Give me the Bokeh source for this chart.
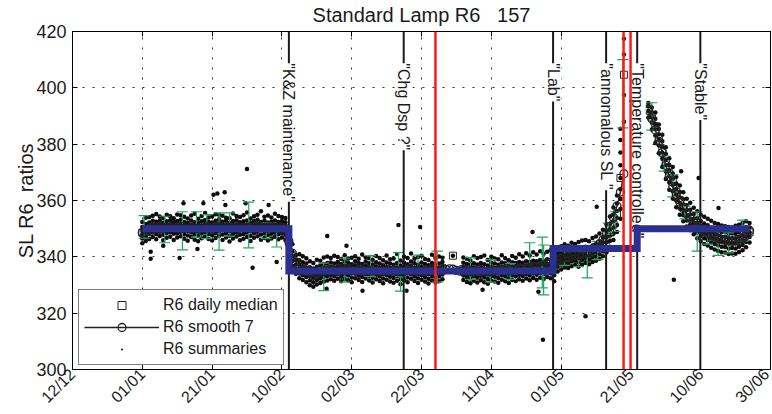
import math
import numpy as np
from bokeh.plotting import figure
from bokeh.models import (Span, Label, Legend, LegendItem, LinearAxis, FixedTicker, Range1d)
from bokeh.embed import file_html
from bokeh.resources import INLINE

FONT = "Liberation Sans"
TXT = "#1a1a1a"
GREEN = "#1fa35a"
BLUE = "#2b2f8f"
NBSP = "\u00a0"

# ---------------- axes ----------------
# x is measured in days counted from 12/12
tick_days = [0, 20, 40, 60, 80, 100, 120, 140, 160, 180, 200]
tick_labels = ["12/12", "01/01", "21/01", "10/02", "02/03", "22/03",
               "11/04", "01/05", "21/05", "10/06", "30/06"]
y_ticks = [300, 320, 340, 360, 380, 400, 420]
title_text = "Standard Lamp R6" + NBSP * 3 + "157"
ylabel_text = "SL R6" + NBSP * 2 + "ratios"

# ---------------- R6 summaries (several per day) ----------------
summ_days_1 = list(range(20, 62))
summ_vals_1 = [
    [344.8, 346.5, 347.9, 349.2, 350.6, 352.4], [345.6, 347.2, 348.8, 350.1, 351.7, 353.9],
    [346.3, 348.1, 349.5, 350.8, 352.2, 354.1], [347.0, 348.6, 349.9, 351.3, 352.8, 354.6],
    [346.2, 348.0, 349.7, 351.0, 352.5, 355.2], [347.4, 348.9, 350.2, 351.4, 352.9, 354.3],
    [345.9, 347.8, 349.4, 350.7, 352.1, 353.8], [346.8, 348.5, 349.9, 351.2, 352.6, 354.9],
    [347.1, 348.7, 350.0, 351.5, 353.0, 354.4], [346.0, 348.2, 349.6, 350.9, 352.3, 353.7],
    [346.9, 348.4, 349.8, 351.1, 352.7, 355.0], [347.3, 348.9, 350.3, 351.6, 353.2, 354.8],
    [346.4, 348.0, 349.5, 350.8, 352.4, 354.2], [345.7, 347.6, 349.2, 350.6, 352.0, 353.6],
    [347.0, 348.6, 350.1, 351.3, 352.9, 354.7], [346.1, 347.9, 349.4, 350.9, 352.3, 355.3],
    [345.5, 347.4, 349.0, 350.5, 351.9, 353.5], [346.6, 348.3, 349.7, 351.0, 352.6, 354.5],
    [347.2, 348.8, 350.2, 351.7, 353.1, 355.6], [346.3, 348.1, 349.6, 351.0, 352.4, 354.0],
    [345.8, 347.7, 349.3, 350.7, 352.2, 354.3], [346.7, 348.4, 349.9, 351.4, 352.8, 355.1],
    [347.5, 349.0, 350.4, 351.8, 353.3, 354.9], [346.0, 347.9, 349.5, 350.9, 352.5, 354.6],
    [346.9, 348.5, 350.0, 351.3, 352.8, 353.9], [345.4, 347.5, 349.1, 350.6, 352.1, 353.7],
    [346.5, 348.2, 349.8, 351.2, 352.7, 355.4], [347.2, 348.7, 350.1, 351.5, 353.0, 354.5],
    [345.9, 347.8, 349.4, 350.8, 352.3, 354.1], [346.4, 348.1, 349.7, 351.1, 352.6, 354.8],
    [347.0, 348.6, 350.0, 351.4, 352.9, 355.7], [345.6, 347.5, 349.2, 350.6, 352.0, 353.6],
    [346.8, 348.4, 349.9, 351.3, 352.7, 354.4], [347.3, 348.9, 350.3, 351.7, 353.2, 354.9],
    [346.1, 347.9, 349.5, 350.9, 352.4, 356.2], [346.7, 348.3, 349.8, 351.2, 352.8, 354.2],
    [345.8, 347.7, 349.3, 350.8, 352.2, 354.7], [346.5, 348.2, 349.7, 351.0, 352.5, 354.0],
    [347.1, 348.6, 350.0, 351.4, 352.9, 355.3], [346.2, 348.0, 349.6, 351.0, 352.4, 354.5],
    [346.9, 348.5, 349.9, 351.3, 352.7, 354.1], [346.0, 347.8, 349.4, 350.9, 352.3, 353.8],
]

summ_days_2 = list(range(62, 107)) + [109] + list(range(112, 138))
summ_vals_2 = [
    [341.5, 344.0, 346.2, 348.0], [336.8, 338.5, 340.2, 342.0, 344.5],
    [334.0, 335.8, 337.3, 338.9, 340.6], [332.4, 334.1, 335.7, 337.2, 338.8, 340.9],
    [331.8, 333.5, 335.0, 336.6, 338.1, 340.2], [331.0, 332.8, 334.5, 336.0, 337.6, 339.5],
    [329.9, 331.6, 333.2, 334.8, 336.3, 338.4], [329.4, 331.0, 332.6, 334.1, 335.9, 337.8],
    [330.2, 331.8, 333.3, 334.9, 336.5, 339.0], [330.7, 332.3, 333.8, 335.3, 336.9, 338.6],
    [331.2, 332.9, 334.4, 335.9, 337.4, 339.8], [331.6, 333.2, 334.7, 336.2, 337.8, 340.1],
    [332.0, 333.6, 335.1, 336.5, 338.0, 339.6], [331.5, 333.1, 334.6, 336.1, 337.6, 340.4],
    [332.2, 333.8, 335.2, 336.7, 338.2, 339.9], [331.3, 332.9, 334.5, 336.0, 337.5, 339.2],
    [332.1, 333.7, 335.3, 336.8, 338.3, 340.6], [331.7, 333.4, 334.9, 336.4, 337.9, 339.4],
    [331.0, 332.7, 334.3, 335.8, 337.4, 339.7], [332.4, 334.0, 335.5, 336.9, 338.4, 340.2],
    [331.8, 333.3, 334.8, 336.3, 337.8, 339.3], [331.1, 332.8, 334.4, 335.9, 337.5, 340.8],
    [332.3, 333.9, 335.4, 336.8, 338.3, 339.8], [331.6, 333.2, 334.7, 336.2, 337.7, 339.5],
    [330.9, 332.6, 334.2, 335.7, 337.3, 339.0], [332.0, 333.6, 335.1, 336.6, 338.1, 340.3],
    [331.4, 333.0, 334.6, 336.1, 337.6, 339.6], [330.6, 332.3, 333.9, 335.5, 337.0, 338.8],
    [331.9, 333.5, 335.0, 336.5, 338.0, 340.5], [331.2, 332.9, 334.5, 336.0, 337.6, 339.1],
    [330.8, 332.5, 334.1, 335.6, 337.2, 339.4], [331.5, 333.1, 334.7, 336.2, 337.8, 341.0],
    [330.3, 332.0, 333.7, 335.3, 336.9, 338.7], [331.7, 333.3, 334.9, 336.4, 337.9, 340.0],
    [331.0, 332.7, 334.3, 335.8, 337.4, 339.6], [332.2, 333.8, 335.3, 336.8, 338.3, 341.2],
    [331.4, 333.0, 334.6, 336.1, 337.7, 339.3], [330.7, 332.4, 334.0, 335.6, 337.2, 339.9],
    [331.9, 333.5, 335.0, 336.5, 338.0, 340.4], [331.2, 332.8, 334.4, 335.9, 337.5, 339.2],
    [330.5, 332.2, 333.8, 335.4, 337.0, 338.9], [331.6, 333.2, 334.8, 336.3, 337.8, 340.7],
    [330.9, 332.6, 334.2, 335.8, 337.3, 339.5], [331.3, 333.0, 334.5, 336.0, 337.6, 340.1],
    [332.0, 333.7, 335.2, 336.7, 338.2, 339.7],
    [340.4],
    [331.8, 333.4, 334.9, 336.4, 337.9, 339.8], [331.1, 332.8, 334.4, 335.9, 337.5, 339.3],
    [330.6, 332.3, 333.9, 335.5, 337.1, 338.7], [331.5, 333.1, 334.7, 336.2, 337.7, 340.2],
    [330.9, 332.6, 334.2, 335.7, 337.3, 339.6], [331.7, 333.3, 334.8, 336.3, 337.8, 339.9],
    [331.0, 332.7, 334.3, 335.8, 337.4, 340.5], [330.4, 332.1, 333.7, 335.3, 336.9, 338.9],
    [331.6, 333.2, 334.8, 336.3, 337.9, 340.0], [331.2, 332.9, 334.5, 336.0, 337.6, 339.4],
    [330.8, 332.5, 334.1, 335.7, 337.2, 339.1], [331.9, 333.5, 335.0, 336.5, 338.0, 340.6],
    [331.3, 333.0, 334.6, 336.1, 337.7, 339.5], [330.7, 332.4, 334.0, 335.6, 337.2, 338.8],
    [331.8, 333.4, 335.0, 336.5, 338.1, 340.3], [331.4, 333.1, 334.7, 336.2, 337.8, 339.7],
    [332.0, 333.6, 335.2, 336.7, 338.2, 340.9], [331.5, 333.2, 334.8, 336.3, 337.9, 340.1],
    [332.3, 333.9, 335.4, 336.9, 338.4, 341.3], [331.7, 333.4, 335.0, 336.6, 338.2, 340.5],
    [332.5, 334.1, 335.6, 337.1, 338.6, 341.6], [331.9, 333.6, 335.2, 336.8, 338.4, 340.8],
    [332.6, 334.2, 335.8, 337.3, 338.9, 342.0], [332.1, 333.8, 335.4, 337.0, 338.6, 341.1],
    [332.8, 334.4, 336.0, 337.5, 339.1, 341.8], [332.4, 334.1, 335.7, 337.3, 338.9, 342.3],
]

summ_days_3 = list(range(138, 159))
summ_vals_3 = [
    [331.3, 333.5, 335.4, 337.2, 339.0, 340.8], [334.8, 336.5, 338.0, 339.5, 341.0, 343.2],
    [335.5, 337.2, 338.7, 340.1, 341.6, 343.8], [336.2, 337.8, 339.2, 340.6, 342.1, 344.5],
    [336.0, 337.6, 339.1, 340.5, 342.0, 343.9], [336.7, 338.3, 339.7, 341.1, 342.6, 345.0],
    [337.1, 338.6, 340.0, 341.4, 342.9, 344.6], [336.5, 338.1, 339.6, 341.0, 342.5, 345.3],
    [337.3, 338.9, 340.3, 341.7, 343.2, 345.8], [337.8, 339.3, 340.7, 342.1, 343.6, 346.0],
    [337.4, 339.0, 340.5, 341.9, 343.4, 345.5], [338.2, 339.7, 341.1, 342.5, 344.0, 346.7],
    [338.6, 340.1, 341.6, 343.0, 344.6, 347.2], [339.3, 340.9, 342.4, 343.9, 345.5, 348.3],
    [340.2, 341.9, 343.5, 345.1, 346.8, 349.6], [341.5, 343.4, 345.2, 347.0, 348.9, 351.5],
    [343.6, 345.6, 347.6, 349.6, 351.7, 354.3], [346.0, 348.2, 350.4, 352.6, 354.9, 357.5],
    [348.8, 351.3, 353.8, 356.3, 358.9, 361.8],
    [353.5, 357.0, 360.5, 364.0, 368.0, 372.5, 377.0, 381.5, 385.5],
    [388.0, 397.5, 411.8, 417.4],
]

summ_days_4 = list(range(165, 195))
summ_vals_4 = [
    [389.5, 391.8, 393.4, 394.6], [385.2, 387.6, 389.5, 391.3, 393.0],
    [380.4, 383.1, 385.3, 387.2, 389.0, 391.2], [376.8, 379.5, 381.6, 383.5, 385.4, 387.0],
    [371.9, 374.8, 377.0, 379.1, 381.0, 383.3], [367.6, 370.3, 372.6, 374.6, 376.5, 378.9],
    [363.8, 366.4, 368.6, 370.7, 372.6, 375.0], [360.7, 363.3, 365.5, 367.6, 369.6, 371.9],
    [357.6, 360.0, 362.1, 364.1, 366.0, 368.4], [354.9, 357.2, 359.2, 361.1, 363.0, 365.3],
    [352.6, 354.8, 356.7, 358.6, 360.4, 362.9], [350.8, 352.9, 354.7, 356.5, 358.3, 360.6],
    [349.4, 351.4, 353.2, 355.0, 356.7, 359.2], [348.0, 350.0, 351.8, 353.5, 355.2, 357.4],
    [346.6, 348.6, 350.4, 352.1, 353.8, 356.2], [345.5, 347.5, 349.3, 351.0, 352.7, 354.9],
    [344.6, 346.6, 348.4, 350.1, 351.8, 354.2], [344.0, 346.0, 347.8, 349.5, 351.2, 353.5],
    [343.2, 345.1, 346.9, 348.6, 350.3, 352.8], [342.6, 344.6, 346.4, 348.1, 349.8, 352.0],
    [342.1, 344.1, 345.9, 347.6, 349.3, 351.7], [341.6, 343.6, 345.4, 347.1, 348.8, 351.1],
    [341.5, 343.5, 345.3, 347.0, 348.7, 350.9], [341.0, 343.0, 344.8, 346.5, 348.2, 350.6],
    [341.2, 343.1, 344.9, 346.6, 348.3, 350.3], [341.1, 343.0, 344.8, 346.5, 348.2, 351.0],
    [341.7, 343.6, 345.4, 347.1, 348.8, 351.4], [342.3, 344.2, 346.0, 347.7, 349.4, 352.0],
    [343.4, 345.3, 347.1, 348.8, 350.5, 352.6], [345.1, 347.0, 348.7, 350.4, 352.0],
]

# isolated summaries far from the daily cloud
outlier_days = [22.4, 22.4, 26.0, 30.7, 31.8, 35.8, 37.5, 40.4, 41.5, 43.6, 43.8, 49.6,
                50.0, 51.6, 56.2, 58.5, 72.8, 73.0, 78.5, 83.1, 93.4, 95.7, 99.6, 117.5,
                131.8, 133.5, 134.8, 147.0, 150.2, 172.3, 174.4, 179.4, 185.1]
outlier_vals = [341.8, 339.3, 343.9, 339.6, 359.0, 342.8, 359.0, 362.0, 362.5, 362.9, 358.4, 359.0,
                371.2, 336.1, 358.4, 338.2, 328.7, 347.4, 343.9, 328.0, 351.3, 328.0, 350.6, 328.3,
                348.8, 327.6, 310.6, 318.9, 357.8, 331.9, 370.4, 368.0, 357.3]

# ---------------- R6 smooth 7 ----------------
smooth_days = list(range(20, 159)) + list(range(165, 195))
smooth_vals = [
    348.6, 349.0, 349.4, 349.7, 349.9, 350.1, 350.2, 350.2, 350.3, 350.3, 350.2, 350.2, 350.1, 350.1,
    350.2, 350.1, 350.1, 350.2, 350.3, 350.3, 350.3, 350.4, 350.4, 350.4, 350.3, 350.3, 350.3, 350.3,
    350.3, 350.4, 350.4, 350.4, 350.4, 350.4, 350.4, 350.4, 350.3, 350.3, 350.3, 350.2, 349.6, 348.4,
    345.5, 341.3, 338.2, 336.5, 335.4,
    334.9, 334.5, 334.3, 334.4, 334.6, 334.8, 335.0, 335.1, 335.2, 335.1, 335.1, 335.2, 335.2, 335.1,
    335.1, 335.1, 335.0, 335.1, 335.0, 334.9, 334.9, 334.9, 334.9, 334.9, 334.9, 334.9, 334.9, 335.0,
    335.0, 335.1, 335.0, 334.9, 334.9, 334.9, 334.9, 335.0, 335.0, 335.1, 335.2, 335.3,
    335.5, 335.7, 335.6, 335.2, 334.9,
    334.8, 334.7, 334.7, 334.8, 334.8, 334.8, 334.8, 334.8, 334.9, 335.0, 335.1, 335.2, 335.3, 335.4,
    335.5, 335.6, 335.7, 335.9, 336.0, 336.2, 336.4, 336.6, 336.8, 337.1, 337.5, 337.9,
    338.4, 338.9, 339.3, 339.7, 340.1, 340.4, 340.7, 341.0, 341.3, 341.7, 342.1, 342.7, 343.5, 344.6,
    346.1, 348.1, 350.8, 354.0, 358.0, 363.0, 369.5,
    392.0, 389.0, 385.0, 381.0, 377.0, 372.5, 368.5, 365.0, 362.0, 359.5, 357.2, 355.3, 353.7, 352.3,
    351.0, 350.0, 349.1, 348.3, 347.6, 347.0, 346.5, 346.1, 345.8, 345.6, 345.5, 345.6, 345.9, 346.5,
    347.5, 349.3,
]

# ---------------- green error bars ----------------
err_days = [20.5, 26.4, 31.5, 35.5, 38.5, 42.0, 45.0, 50.5, 55.5, 58.5,
            72.0, 78.0, 85.4, 93.4, 94.0, 99.0, 104.5, 114.0, 119.8, 125.5, 131.0, 134.6, 135.0,
            141.0, 145.0, 147.5, 150.5, 153.5, 155.5, 157.7,
            166.0, 169.5, 172.0, 175.5, 179.0, 182.0, 185.0, 188.0, 192.0]
err_lo = [346.6, 345.0, 342.5, 347.0, 346.5, 342.4, 347.3, 343.2, 346.5, 343.5,
          328.0, 331.0, 333.0, 334.7, 327.8, 334.6, 331.0, 332.0, 331.0, 332.0, 336.0, 329.0, 326.5,
          337.0, 336.5, 332.5, 339.0, 348.0, 349.0, 385.8,
          385.0, 370.4, 361.3, 353.5, 342.0, 344.5, 340.5, 341.4, 345.6]
err_hi = [354.6, 354.4, 356.0, 356.0, 355.0, 355.6, 355.6, 359.4, 352.0, 349.0,
          337.8, 339.5, 340.4, 341.5, 333.0, 340.6, 342.0, 339.7, 339.0, 337.6, 345.0, 347.0, 344.2,
          344.0, 342.5, 341.9, 345.5, 352.0, 356.0, 410.0,
          394.7, 375.8, 369.1, 358.0, 356.0, 350.0, 349.0, 348.5, 353.0]

# ---------------- reference level (blue step) ----------------
step_days = [20, 62, 137.7, 161.8, 194]
step_levels = [350, 335, 343, 350, 350]

# ---------------- events ----------------
event_days = [62.0, 94.9, 137.7, 152.9, 161.8, 179.9]
event_labels = ['"K&Z maintenance"', '"Chg Dsp ?"', '"Lab"', '"annomalous SL "',
                '"Temperature controlled"', '"Stable"']
red_days = [104.0, 157.9, 159.9]

# ---------------- derived arrays ----------------
all_days = summ_days_1 + summ_days_2 + summ_days_3 + summ_days_4
all_vals = summ_vals_1 + summ_vals_2 + summ_vals_3 + summ_vals_4
dot_x, dot_y = [], []
for d, vals in zip(all_days, all_vals):
    dot_x += [d] * len(vals)
    dot_y += vals
dot_x += outlier_days
dot_y += outlier_vals
med_x = all_days
med_y = [float(np.median(v)) for v in all_vals]

sm_x, sm_y = [], []
for i, (d, v) in enumerate(zip(smooth_days, smooth_vals)):
    if i > 0 and d - smooth_days[i - 1] > 1:
        sm_x.append(float("nan"))
        sm_y.append(float("nan"))
    sm_x.append(d)
    sm_y.append(v)

# ---------------- figure ----------------
p = figure(width=772, height=414, x_range=Range1d(0, 200), y_range=Range1d(300, 420),
           output_backend="svg", toolbar_location=None,
           min_border_left=72, min_border_right=2, min_border_top=31, min_border_bottom=44)
p.background_fill_color = "white"
p.border_fill_color = "white"
p.outline_line_color = "black"
p.outline_line_width = 1

p.title.text = title_text
p.title.align = "center"
p.title.vertical_align = "top"
p.title.text_font = FONT
p.title.text_font_size = "20px"
p.title.text_font_style = "normal"
p.title.text_color = TXT
p.title.text_line_height = 0.6
p.title.standoff = 7

p.xaxis.ticker = FixedTicker(ticks=tick_days)
p.xaxis.major_label_overrides = {d: l for d, l in zip(tick_days, tick_labels)}
p.xaxis.major_label_orientation = math.pi / 4
p.xaxis.major_label_text_font = FONT
p.xaxis.major_label_text_font_size = "16px"
p.xaxis.major_label_text_color = TXT
p.xaxis.major_label_standoff = 2

p.yaxis.ticker = FixedTicker(ticks=y_ticks)
p.yaxis.major_label_text_font = FONT
p.yaxis.major_label_text_font_size = "18px"
p.yaxis.major_label_text_color = TXT
p.yaxis.major_label_standoff = 6
p.yaxis.axis_label = ylabel_text
p.yaxis.axis_label_text_font = FONT
p.yaxis.axis_label_text_font_size = "20px"
p.yaxis.axis_label_text_font_style = "normal"
p.yaxis.axis_label_text_color = TXT
p.yaxis.axis_label_standoff = -4

for ax in (p.xaxis[0], p.yaxis[0]):
    ax.major_tick_in = 5
    ax.major_tick_out = 0
    ax.minor_tick_line_color = None
    ax.axis_line_color = "black"
    ax.major_tick_line_color = "black"

top_ax = LinearAxis(ticker=FixedTicker(ticks=tick_days), major_label_text_font_size="0px",
                    major_label_text_color=None,
                    major_label_standoff=0, major_tick_in=5, major_tick_out=0,
                    minor_tick_line_color=None, axis_line_color="black")
right_ax = LinearAxis(ticker=FixedTicker(ticks=y_ticks), major_label_text_font_size="0px",
                      major_label_text_color=None,
                      major_label_standoff=0, major_tick_in=5, major_tick_out=0,
                      minor_tick_line_color=None, axis_line_color="black")
p.add_layout(top_ax, "above")
p.add_layout(right_ax, "right")

p.xgrid.ticker = FixedTicker(ticks=tick_days)
p.ygrid.ticker = FixedTicker(ticks=y_ticks)
for g in (p.xgrid[0], p.ygrid[0]):
    g.grid_line_color = "#333333"
    g.grid_line_dash = "2 8"
    g.grid_line_width = 1

# data
r_dots = p.scatter(dot_x, dot_y, marker="dot", size=18, line_color="#0d0d0d")
p.segment(x0=err_days, y0=err_lo, x1=err_days, y1=err_hi, line_color=GREEN, line_width=1.2)
p.scatter(err_days + err_days, err_lo + err_hi, marker="dash", size=11,
          line_color=GREEN, line_width=1.2)
r_med = p.scatter(med_x, med_y, marker="square", size=7, fill_color=None,
                  line_color="#222222", line_width=1)
r_sm_line = p.line(sm_x, sm_y, line_color="#222222", line_width=1.5)
r_sm_circ = p.scatter(sm_x, sm_y, marker="circle", size=8, fill_color=None,
                      line_color="#222222", line_width=1.3)

# event lines and labels
for d in event_days:
    p.add_layout(Span(location=d, dimension="height", line_color="#1a1a1a", line_width=2))
for d, t in zip(event_days, event_labels):
    p.add_layout(Label(x=d, y=408.7, text=t, angle=-math.pi / 2, text_align="left",
                       text_baseline="middle", text_font=FONT, text_font_size="16px",
                       text_color=TXT, background_fill_color="white"))

# blue reference level drawn above the labels, red lines on top of everything
p.step(step_days, step_levels, mode="after", line_color=BLUE, line_width=7,
       line_join="miter", level="overlay")
for d in red_days:
    p.add_layout(Span(location=d, dimension="height", line_color="#ff1a1a", line_width=2.5,
                      level="overlay"))

legend = Legend(items=[
    LegendItem(label="R6 daily median", renderers=[r_med]),
    LegendItem(label="R6 smooth 7", renderers=[r_sm_line, r_sm_circ]),
    LegendItem(label="R6 summaries", renderers=[r_dots]),
], location=(6, 4))
legend.border_line_color = "black"
legend.border_line_width = 1
legend.background_fill_color = "white"
legend.background_fill_alpha = 1
legend.label_text_font = FONT
legend.label_text_font_size = "16px"
legend.label_text_color = TXT
legend.glyph_width = 75
legend.glyph_height = 20
legend.label_height = 20
legend.spacing = 2
legend.padding = 5
legend.margin = 0
legend.label_standoff = 4
p.add_layout(legend)

open("out.html", "w").write(file_html(p, INLINE))
